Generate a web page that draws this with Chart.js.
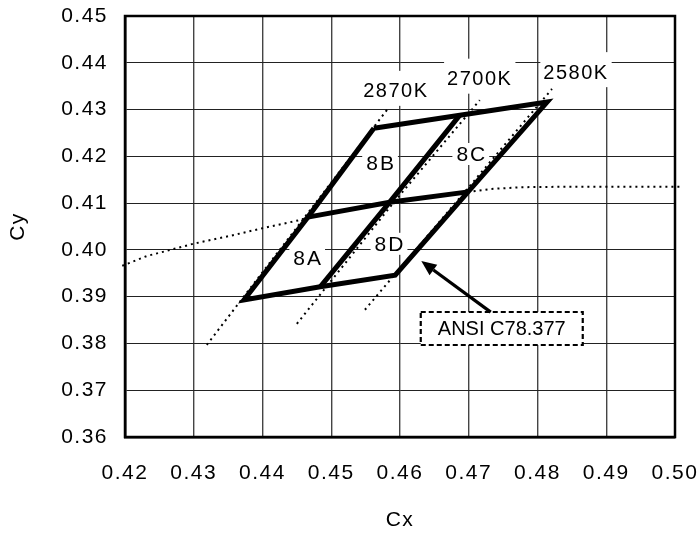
<!DOCTYPE html>
<html><head><meta charset="utf-8">
<script src="https://cdn.jsdelivr.net/npm/chart.js@4.4.1/dist/chart.umd.min.js"></script>
<style>html,body{margin:0;padding:0;background:#fff;}canvas{display:block;}</style>
</head><body>
<canvas id="c" width="699" height="534"></canvas>
<script>
// ---- tick labels ----
const xTickLabels = ['0.42','0.43','0.44','0.45','0.46','0.47','0.48','0.49','0.50'];
const yTickLabels = ['0.36','0.37','0.38','0.39','0.40','0.41','0.42','0.43','0.44','0.45'];

// ---- ANSI C78.377 2700K quadrangle (outline, through mid points) ----
const outlineCx = [0.4562, 0.4687, 0.4814, 0.4699, 0.4593, 0.4484, 0.4373, 0.4466, 0.4562];
const outlineCy = [0.4260, 0.4288, 0.4316, 0.4124, 0.3946, 0.3921, 0.3893, 0.4070, 0.4260];
// split lines through the centre
const splitDuvCx = [0.4466, 0.4585, 0.4699];
const splitDuvCy = [0.4070, 0.4102, 0.4124];
const splitCctCx = [0.4687, 0.4585, 0.4484];
const splitCctCy = [0.4288, 0.4102, 0.3921];

// ---- Planckian locus (dotted) ----
const locusCx = [0.4196, 0.4232, 0.4261, 0.4299, 0.4353, 0.4396, 0.4455, 0.4466, 0.4585, 0.4699, 0.4731, 0.4775, 0.4840, 0.5012];
const locusCy = [0.3966, 0.3987, 0.3998, 0.4013, 0.4030, 0.4045, 0.4064, 0.4070, 0.4102, 0.4124, 0.4130, 0.4134, 0.4135, 0.4135];

// ---- isotherm lines (dotted) ----
const iso2870Cx = [0.4319, 0.4583];
const iso2870Cy = [0.3797, 0.4303];
const iso2700Cx = [0.4450, 0.4590, 0.4716];
const iso2700Cy = [0.3842, 0.4100, 0.4320];
const iso2580Cx = [0.4549, 0.4821];
const iso2580Cy = [0.3872, 0.4344];

// ---- labels ----
const cctLabels = ['2870K', '2700K', '2580K'];
const cctLabelCx = [0.4594, 0.4716, 0.4856];
const cctLabelCy = [0.4340, 0.4366, 0.4380];
const binLabels = ['8A', '8B', '8C', '8D'];
const binLabelCx = [0.4465, 0.4571, 0.4703, 0.4584];
const binLabelCy = [0.3983, 0.4186, 0.4205, 0.4013];
const noteText = 'ANSI C78.377';
const noteCx = 0.4748, noteCy = 0.3832;
const arrowFromCx = 0.4732, arrowFromCy = 0.3867;
const arrowToCx = 0.4631, arrowToCy = 0.3976;

const FONT = '"Liberation Sans", Arial, Helvetica, sans-serif';
const pts = (xs, ys) => xs.map((v, i) => ({x: v, y: ys[i]}));

const thick = (xs, ys) => ({data: pts(xs, ys), showLine: true, borderColor: '#000', borderWidth: 5,
  pointRadius: 0, borderJoinStyle: 'miter', borderCapStyle: 'butt', fill: false});
const dotted = (xs, ys, clip) => ({data: pts(xs, ys), showLine: true, borderColor: '#000', borderWidth: 2,
  borderDash: [2, 4], pointRadius: 0, fill: false, clip: clip || 0});

const overlay = {
  id: 'overlay',
  beforeDraw(chart) { chart.ctx.letterSpacing = '1.5px'; },
  beforeDatasetsDraw(chart) {
    const {ctx, scales: {x, y}} = chart;
    ctx.save();
    ctx.font = '20px ' + FONT;
    ctx.textAlign = 'center';
    ctx.textBaseline = 'middle';
    ctx.letterSpacing = '1.5px';
    cctLabels.forEach((t, i) => {
      const px = x.getPixelForValue(cctLabelCx[i]), py = y.getPixelForValue(cctLabelCy[i]);
      const w = ctx.measureText(t).width;
      ctx.fillStyle = '#fff';
      ctx.fillRect(px - w / 2 - 3, py - 20, w + 6, 35);
      ctx.fillStyle = '#000';
      ctx.fillText(t, px, py + 1);
    });
    ctx.font = '21px ' + FONT;
    ctx.letterSpacing = '2px';
    binLabels.forEach((t, i) => {
      const px = x.getPixelForValue(binLabelCx[i]), py = y.getPixelForValue(binLabelCy[i]);
      const w = ctx.measureText(t).width;
      ctx.fillStyle = '#fff';
      ctx.fillRect(px - w / 2 - 3, py - 11, w + 6, 22);
      ctx.fillStyle = '#000';
      ctx.fillText(t, px + 1, py + 1);
    });
    ctx.restore();
  },
  afterDatasetsDraw(chart) {
    const {ctx, chartArea: a, scales: {x, y}} = chart;
    ctx.save();
    ctx.letterSpacing = '0px';
    // frame
    ctx.strokeStyle = '#000';
    ctx.lineWidth = 2.5;
    ctx.strokeRect(a.left, a.top, a.right - a.left, a.bottom - a.top);
    // note box
    const nx = x.getPixelForValue(noteCx), ny = y.getPixelForValue(noteCy);
    ctx.fillStyle = '#fff';
    ctx.fillRect(nx - 81, ny - 16.5, 162, 33);
    ctx.setLineDash([5, 3]);
    ctx.lineWidth = 2.2;
    ctx.strokeRect(nx - 81, ny - 16.5, 162, 33);
    ctx.setLineDash([]);
    ctx.fillStyle = '#000';
    ctx.font = '20px ' + FONT;
    ctx.textAlign = 'center';
    ctx.textBaseline = 'middle';
    ctx.fillText(noteText, nx, ny + 1);
    // arrow
    const x0 = x.getPixelForValue(arrowFromCx), y0 = y.getPixelForValue(arrowFromCy);
    const x1 = x.getPixelForValue(arrowToCx), y1 = y.getPixelForValue(arrowToCy);
    const ang = Math.atan2(y1 - y0, x1 - x0);
    const hl = 15, hw = 6.5;
    const bx = x1 - hl * Math.cos(ang), by = y1 - hl * Math.sin(ang);
    ctx.lineWidth = 3.2;
    ctx.beginPath(); ctx.moveTo(x0, y0); ctx.lineTo(bx, by); ctx.stroke();
    ctx.beginPath();
    ctx.moveTo(x1, y1);
    ctx.lineTo(bx + hw * Math.sin(ang), by - hw * Math.cos(ang));
    ctx.lineTo(bx - hw * Math.sin(ang), by + hw * Math.cos(ang));
    ctx.closePath(); ctx.fill();
    ctx.restore();
  }
};

new Chart(document.getElementById('c'), {
  type: 'scatter',
  data: {
    datasets: [
      thick(outlineCx, outlineCy),
      thick(splitDuvCx, splitDuvCy),
      thick(splitCctCx, splitCctCy),
      dotted(locusCx, locusCy, {left: 6, right: 10, top: 0, bottom: 0}),
      dotted(iso2870Cx, iso2870Cy),
      dotted(iso2700Cx, iso2700Cy),
      dotted(iso2580Cx, iso2580Cy)
    ]
  },
  options: {
    responsive: false,
    devicePixelRatio: 1,
    animation: false,
    layout: {padding: {top: 16, right: 24, left: 0, bottom: 0}},
    plugins: {legend: {display: false}, tooltip: {enabled: false}},
    scales: {
      x: {
        type: 'linear', min: 0.42, max: 0.50,
        afterFit(s) { s.height = 97; },
        afterBuildTicks(s) { s.ticks = xTickLabels.map(v => ({value: parseFloat(v)})); },
        ticks: {padding: 0, color: '#000', font: {family: FONT, size: 21},
          callback: (v, i) => xTickLabels[i]},
        grid: {color: '#444', lineWidth: 1.4, drawTicks: true, tickLength: 24, tickColor: 'rgba(0,0,0,0)'},
        border: {color: '#000', width: 2.5},
        title: {display: true, text: 'Cx', color: '#000', font: {family: FONT, size: 21}, padding: {top: 0, bottom: 1}}
      },
      y: {
        type: 'linear', min: 0.36, max: 0.45,
        afterFit(s) { s.width = 125; },
        afterBuildTicks(s) { s.ticks = yTickLabels.map(v => ({value: parseFloat(v)})); },
        ticks: {padding: 0, color: '#000', font: {family: FONT, size: 21},
          callback: (v, i) => yTickLabels[i]},
        grid: {color: '#222', lineWidth: 1, drawTicks: true, tickLength: 17, tickColor: 'rgba(0,0,0,0)'},
        border: {color: '#000', width: 2.5},
        title: {display: true, text: 'Cy', color: '#000', font: {family: FONT, size: 21}, padding: {top: 6, bottom: 0}}
      }
    }
  },
  plugins: [overlay]
});
</script>
</body></html>
